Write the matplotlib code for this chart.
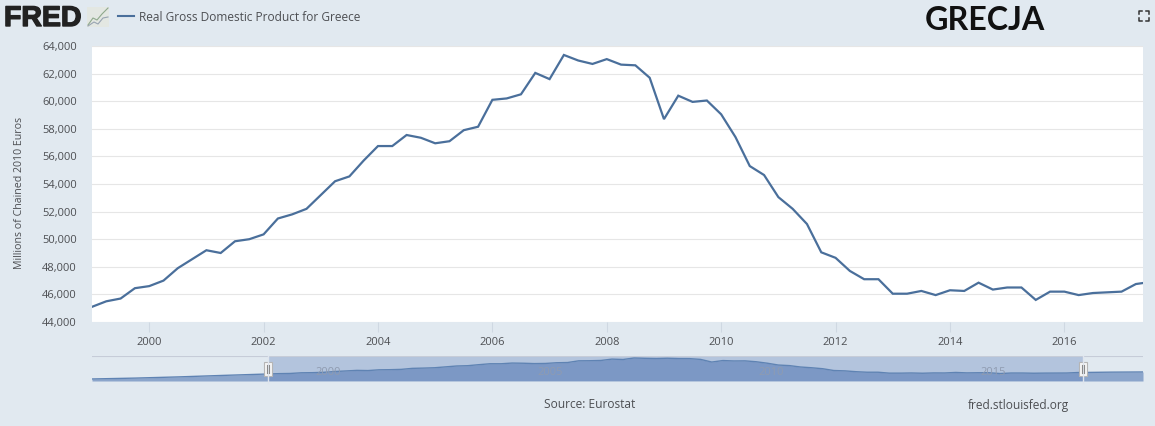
from matplotlib import pyplot as plt
from matplotlib.patches import Rectangle
from matplotlib.lines import Line2D
from matplotlib.ticker import FuncFormatter
import matplotlib.patheffects as pe

W, H = 1155, 426

# quarterly values, first point 1999 Q1, last one (2017 Q3) runs off the right edge
gdp = [
    45100, 45500, 45700, 46450,
    46600, 47000, 47900, 48550,
    49200, 49000, 49850, 50000,
    50350, 51500, 51800, 52200,
    53200, 54200, 54550, 55700,
    56750, 56750, 57550, 57350,
    56950, 57100, 57900, 58150,
    60100, 60200, 60500, 62050,
    61600, 63350, 62950, 62700,
    63050, 62650, 62600, 61700,
    58700, 60400, 59950, 60050,
    59050, 57400, 55300, 54650,
    53050, 52200, 51100, 49050,
    48650, 47700, 47100, 47100,
    46050, 46050, 46250, 45950,
    46300, 46250, 46850, 46350,
    46500, 46500, 45600, 46200,
    46200, 45950, 46100, 46150,
    46200, 46750, 46900,
]
quarters = [1999 + i / 4 for i in range(len(gdp))]

# overview strip also shows the years around the main chart
early_years = [1995.03, 1996, 1997, 1998]
early_gdp = [39400, 40400, 41800, 43500]
late_years = [2018, 2018.72]
late_gdp = [47200, 47400]
nav_years = [2000, 2005, 2010, 2015]
y_ticks = list(range(44000, 66000, 2000))
x_ticks = list(range(2000, 2018, 2))

BG = "#e1e9f0"
LINE = "#4a6f9b"
TXT = "#4d4f53"


def box(x0, y0, x1, y1):
    # pixel box measured from the top left -> figure fractions
    return [x0 / W, 1 - y1 / H, (x1 - x0) / W, (y1 - y0) / H]


def fx(x):
    return x / W


def fy(y):
    return 1 - y / H


plt.rcParams["font.family"] = ["Open Sans", "DejaVu Sans"]
fig = plt.figure(figsize=(W / 100, H / 100), dpi=100, facecolor=BG)

# main chart
ax = fig.add_axes(box(92, 46, 1143, 322))
ax.plot(quarters, gdp, color=LINE, lw=1.6, solid_joinstyle="miter")
ax.set_xlim(1999, 2017.375)
ax.set_ylim(44000, 64000)
ax.set_yticks(y_ticks)
ax.set_xticks(x_ticks)
ax.yaxis.set_major_formatter(FuncFormatter(lambda v, _: f"{int(v):,}"))
ax.grid(axis="y", color="#e6e6e6", lw=0.8)
ax.set_axisbelow(True)
for s in ax.spines.values():
    s.set_visible(False)
ax.tick_params(axis="y", length=0, pad=11, labelsize=8, labelcolor=TXT)
ax.tick_params(axis="x", length=7, width=0.8, color="#cfd8e2", pad=4, labelsize=8, labelcolor=TXT)
fig.text(fx(20), fy(193), "Millions of Chained 2010 Euros", rotation=90, fontsize=7.7,
         color=TXT, ha="center", va="center")

# overview strip
nav = fig.add_axes(box(92, 356, 1143, 381))
nav.set_facecolor(BG)
nav.set_xlim(1995.03, 2018.72)
nav.set_ylim(37100, 65600)
nav_x = early_years + quarters + late_years
nav_y = early_gdp + gdp + late_gdp
nav.fill_between(nav_x, nav_y, 37100, color="#8ba5cb", lw=0)
nav.plot(nav_x, nav_y, color="#5f83b3", lw=1)
nav.axvspan(1999, 2017.37, color="#6483bd", alpha=0.36, lw=0)
nav.axhline(65600, color="#c6ccd8", lw=1.5)
nav.set_xticks([])
nav.set_yticks([])
for s in nav.spines.values():
    s.set_visible(False)
for yr in nav_years:
    # labels in the reference sit a little right of their data position
    nav.text(yr + 0.35, 46500, str(yr), fontsize=8, color="#8f9bb0", ha="center", va="center")

# range handles
for hx in [268, 1083]:
    fig.add_artist(Line2D([fx(hx)] * 2, [fy(356), fy(383)], color="#dfe5ee", lw=1))
    fig.add_artist(Rectangle((fx(hx - 4), fy(376)), 8 / W, 14 / H, transform=fig.transFigure,
                             fc="#f5f5f5", ec="#b5b5b5", lw=0.8))
    for dx in [-1, 1]:
        fig.add_artist(Line2D([fx(hx + dx)] * 2, [fy(365), fy(373)], color="#8a8a8a", lw=0.8))

# header
fig.text(fx(4), fy(26), "FRED", family="Liberation Sans", fontsize=20.5, weight="bold",
         color="#222222", va="baseline",
         path_effects=[pe.withStroke(linewidth=1.0, foreground="#222222")])
fig.add_artist(Rectangle((fx(87), fy(27)), 22 / W, 20 / H, transform=fig.transFigure,
                         fc="#e3e7e2", ec="none"))
fig.add_artist(Line2D([fx(x) for x in [88, 93, 97, 102, 108]], [fy(y) for y in [25, 18, 20, 14, 8]],
                      color="#8fa98c", lw=0.8))
fig.add_artist(Line2D([fx(x) for x in [88, 94, 98, 103, 108]], [fy(y) for y in [26, 22, 24, 18, 17]],
                      color="#98a4b2", lw=0.8))
fig.add_artist(Line2D([fx(118), fx(134)], [fy(16), fy(16)], color=LINE, lw=1.5))
fig.text(fx(139), fy(17.5), "Real Gross Domestic Product for Greece", fontsize=8.6, color=TXT,
         va="center")
fig.text(fx(925), fy(21), "GRECJA", family="Lato", fontsize=23.2, weight="bold", color="#111111",
         va="center")

# fullscreen icon corners
for cx, cy, sx, sy in [(1139, 11, 1, 1), (1149, 11, -1, 1), (1139, 21, 1, -1), (1149, 21, -1, -1)]:
    fig.add_artist(Line2D([fx(cx + 3 * sx), fx(cx), fx(cx)], [fy(cy), fy(cy), fy(cy + 3 * sy)],
                          color="#333333", lw=1.1))

# footer
fig.text(fx(589.5), fy(405), "Source: Eurostat", fontsize=8.6, color=TXT, ha="center", va="center")
fig.text(fx(1018), fy(405), "fred.stlouisfed.org", fontsize=8.6, color=TXT, ha="center", va="center")

fig.savefig("out.png", dpi=100, facecolor=BG)
